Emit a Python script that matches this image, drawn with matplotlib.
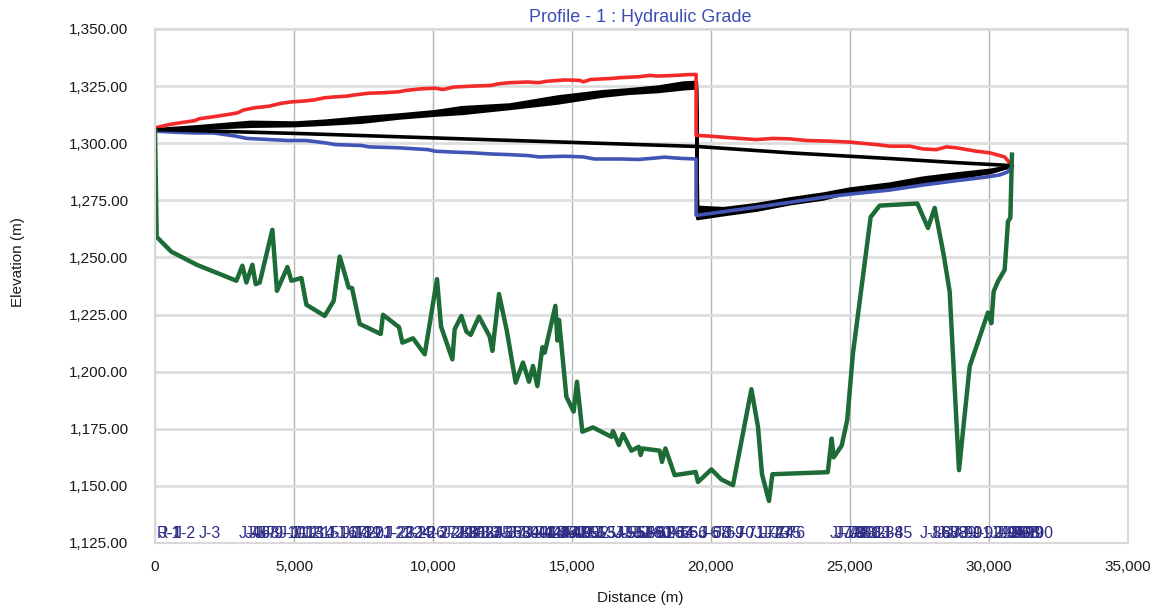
import matplotlib
matplotlib.use("Agg")
import matplotlib.pyplot as plt
from matplotlib.ticker import FuncFormatter, MultipleLocator
from matplotlib.transforms import offset_copy

plt.rcParams["font.family"] = ["Liberation Sans", "DejaVu Sans"]

# Ground profile: node distance along the pipe (m) and node elevation (m)
node_dist = [0, 60, 590, 1500, 2928, 3143, 3287, 3503, 3622, 3766, 4222, 4388,
             4762, 4906, 5266, 5446, 6104, 6428, 6644, 6968, 7087, 7363, 8119,
             8202, 8777, 8899, 9281, 9701, 10144, 10290, 10697, 10780, 11021,
             11201, 11356, 11654, 12039, 12136, 12374, 12662, 12974, 13237,
             13453, 13597, 13755, 13935, 14018, 14402, 14474, 14532, 14798,
             15060, 15179, 15373, 15754, 16416, 16474, 16690, 16834, 17136,
             17399, 17471, 17531, 18154, 18237, 18359, 18694, 19449, 19532,
             20014, 20374, 20791, 21453, 21690, 21834, 22086, 22208, 24200,
             24340, 24413, 24700, 24900, 25106, 25286, 25743, 26067, 27423,
             27805, 28046, 28369, 28585, 28920, 29305, 29963, 30085, 30168,
             30322, 30563, 30683, 30768, 30826]
node_elev = [1305.5, 1259.0, 1252.5, 1246.8, 1239.8, 1246.4, 1239.0, 1246.8,
             1238.3, 1239.0, 1262.1, 1235.4, 1245.8, 1239.8, 1241.0, 1229.3,
             1224.4, 1231.0, 1250.4, 1236.8, 1236.6, 1220.9, 1216.5, 1224.9,
             1219.5, 1212.7, 1214.6, 1207.6, 1240.5, 1219.7, 1205.4, 1218.6,
             1224.4, 1217.5, 1216.1, 1224.1, 1215.4, 1209.1, 1234.0, 1217.5,
             1195.2, 1204.0, 1195.6, 1202.5, 1193.7, 1210.7, 1208.3, 1228.8,
             1213.6, 1222.7, 1189.0, 1182.5, 1195.6, 1173.7, 1175.6, 1171.5,
             1174.0, 1167.9, 1172.7, 1165.4, 1167.1, 1163.5, 1166.4, 1165.4,
             1160.5, 1166.4, 1154.7, 1156.1, 1151.7, 1157.2, 1152.8, 1150.3,
             1192.3, 1175.9, 1155.1, 1143.4, 1155.1, 1156.0, 1170.7, 1162.5,
             1167.6, 1178.8, 1208.0, 1224.9, 1267.7, 1272.7, 1273.6, 1262.9,
             1271.7, 1251.2, 1235.1, 1156.9, 1202.3, 1225.9, 1221.2, 1235.1,
             1239.5, 1244.6, 1265.8, 1267.3, 1295.0]
node_names = ["R-1"] + [f"J-{i}" for i in range(1, len(node_dist))]

# Maximum hydraulic grade (red)
hgl_max_dist = [0, 514, 1046, 1445, 1578, 2110, 2642, 2974, 3173, 3572, 4104,
                4503, 4902, 5301, 5700, 6099, 6498, 6897, 7163, 7695, 8227,
                8759, 9025, 9556, 10088, 10354, 10753, 11418, 12083, 12349,
                12748, 13413, 13812, 14078, 14743, 15275, 15408, 15674, 16471,
                16737, 17402, 17801, 18067, 18732, 19131, 19464, 19464, 19533,
                19952, 20672, 21032, 21631, 22231, 22830, 23430, 24269, 24988,
                25947, 26427, 27146, 27626, 28106, 28465, 28825, 29544, 30024,
                30384, 30564, 30826]
hgl_max = [1306.7, 1308.2, 1309.2, 1309.9, 1310.7, 1311.6, 1312.6, 1313.3,
           1314.5, 1315.5, 1316.2, 1317.4, 1318.1, 1318.4, 1318.9, 1319.9,
           1320.3, 1320.6, 1321.1, 1321.9, 1322.1, 1322.5, 1323.1, 1323.8,
           1324.1, 1323.5, 1324.6, 1325.0, 1325.3, 1326.0, 1326.5, 1326.8,
           1326.5, 1327.1, 1327.7, 1327.5, 1326.9, 1327.9, 1328.4, 1328.7,
           1329.1, 1329.7, 1329.4, 1329.7, 1330.0, 1330.1, 1303.4, 1303.4,
           1303.1, 1302.4, 1302.1, 1301.6, 1302.1, 1301.9, 1301.2, 1300.9,
           1300.5, 1299.4, 1298.7, 1298.7, 1297.5, 1297.2, 1298.4, 1298.0,
           1296.5, 1295.8, 1294.6, 1294.0, 1290.2]

# Minimum hydraulic grade (blue)
hgl_min_dist = [0, 780, 1445, 2110, 2509, 2907, 3306, 4104, 4769, 5434, 6099,
                6498, 7429, 7695, 8759, 9822, 10088, 10753, 11418, 12083,
                12748, 13413, 13812, 14743, 15408, 15807, 16737, 17402, 18067,
                18333, 18865, 19464, 19464, 19533, 20432, 21631, 22830, 24029,
                24988, 26427, 27626, 28825, 29785, 30384, 30683, 30826]
hgl_min = [1305.3, 1304.8, 1304.5, 1304.5, 1303.8, 1303.1, 1302.1, 1301.6,
           1301.2, 1301.2, 1300.2, 1299.4, 1299.0, 1298.4, 1298.0, 1297.2,
           1296.5, 1296.1, 1295.8, 1295.3, 1295.0, 1294.6, 1294.0, 1294.3,
           1294.0, 1293.1, 1293.1, 1292.9, 1293.6, 1293.9, 1293.4, 1293.1,
           1268.5, 1268.5, 1270.0, 1272.0, 1274.1, 1276.3, 1277.7, 1279.5,
           1281.7, 1283.6, 1285.0, 1286.1, 1287.5, 1290.2]

# Steady-state hydraulic grade (black line)
hgl_dist = [0, 5301, 10088, 15408, 19464, 22830, 26427, 28825, 30826]
hgl = [1306.0, 1304.2, 1302.3, 1300.2, 1298.6, 1295.8, 1293.3, 1291.5, 1290.2]

# Envelope of the oscillating grade (black band)
band_dist = [0, 1445, 3439, 5035, 6099, 7429, 8759, 10088, 11019, 12748,
             14477, 16073, 17003, 18067, 18998, 19464, 19500, 20432, 21631,
             22830, 24029, 24988, 26427, 27626, 28825, 30024, 30826]
band_low = [1305.8, 1306.6, 1307.6, 1307.9, 1308.5, 1309.4, 1311.2, 1312.5,
            1313.2, 1315.4, 1317.8, 1320.8, 1322.0, 1322.8, 1324.0, 1324.4,
            1267.2, 1268.9, 1270.9, 1273.7, 1275.8, 1278.7, 1280.6, 1282.8,
            1285.0, 1287.3, 1290.2]
band_high = [1306.2, 1307.4, 1309.4, 1309.1, 1309.9, 1311.4, 1312.6, 1314.1,
             1315.8, 1317.0, 1320.5, 1322.8, 1323.6, 1324.8, 1326.6, 1326.9,
             1272.2, 1271.6, 1273.4, 1275.9, 1278.0, 1280.2, 1282.4, 1285.0,
             1286.8, 1288.4, 1290.2]

W, H = 1161, 610
fig = plt.figure(figsize=(W / 100, H / 100), dpi=100, facecolor="white")
ax = fig.add_axes([155 / W, 1 - 543 / H, (1128 - 155) / W, (543 - 29) / H])

ax.set_xlim(0, 35000)
ax.set_ylim(1125, 1350)
ax.xaxis.set_major_locator(MultipleLocator(5000))
ax.yaxis.set_major_locator(MultipleLocator(25))
ax.xaxis.set_major_formatter(FuncFormatter(lambda v, p: f"{v:,.0f}"))
ax.yaxis.set_major_formatter(FuncFormatter(lambda v, p: f"{v:,.2f}"))
ax.tick_params(axis="both", length=0, labelsize=11, colors="#1a1a1a")
ax.tick_params(axis="y", pad=19)
ax.tick_params(axis="x", pad=12)

for s in ax.spines.values():
    s.set_color("#d9d9d9")
    s.set_linewidth(1.5)

ax.set_axisbelow(True)
ax.grid(axis="x", color="#b4b4b4", linewidth=1.0)
ax.grid(axis="y", color="#dedede", linewidth=2.0)

ax.plot(hgl_min_dist, hgl_min, color="#4254b4", lw=2.6, solid_joinstyle="round")
ax.plot(hgl_max_dist, hgl_max, color="#f42a2a", lw=2.6, solid_joinstyle="round")
ax.fill_between(band_dist, band_low, band_high, facecolor="black",
                edgecolor="black", linewidth=2.4)
ax.plot(hgl_dist, hgl, color="black", lw=2.6)
ax.plot(node_dist, node_elev, color="#1d6b36", lw=3.2, solid_joinstyle="round")

# Node labels along the bottom of the profile
label_tf = offset_copy(ax.transData, fig=fig, x=2, y=0, units="dots")
for d, name in zip(node_dist, node_names):
    ax.text(d, 1127.4, name, transform=label_tf, ha="left", va="baseline",
            fontsize=11.5, color="#2d2d86", clip_on=False)

fig.text(640 / W, 1 - 18 / H, "Profile - 1 : Hydraulic Grade",
         color="#3c4db2", fontsize=13, ha="center", va="center")
fig.text(18 / W, 1 - 262 / H, "Elevation (m)", rotation=90,
         color="#1a1a1a", fontsize=11, ha="center", va="center")
fig.text(640 / W, 1 - 598 / H, "Distance (m)",
         color="#1a1a1a", fontsize=11, ha="center", va="center")

fig.savefig("out.png", dpi=100, facecolor="white")
